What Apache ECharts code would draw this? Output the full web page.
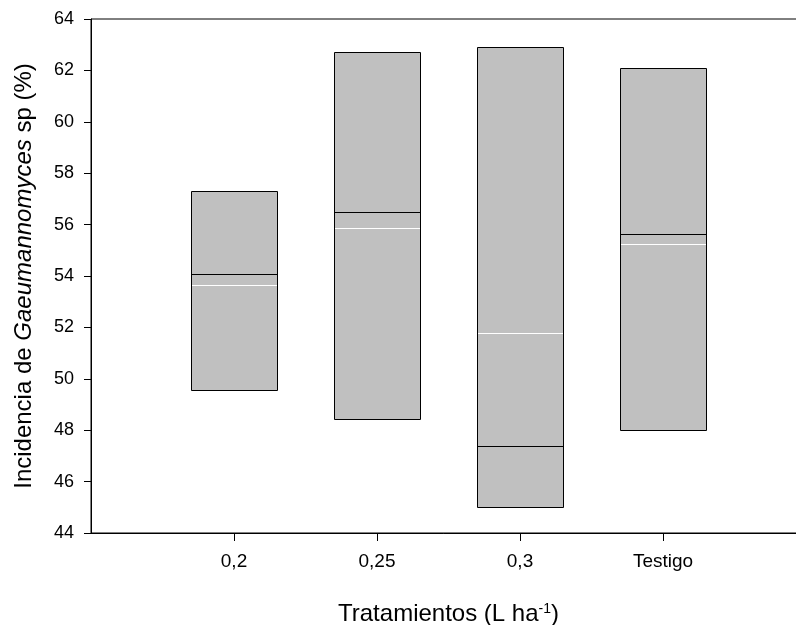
<!DOCTYPE html>
<html>
<head>
<meta charset="utf-8">
<script src="https://cdn.jsdelivr.net/npm/echarts@6/dist/echarts.min.js"></script>
<style>
  html, body { margin: 0; padding: 0; background: #fff; }
  #chart { width: 796px; height: 625px; }
</style>
</head>
<body>
<div id="chart"></div>
<script>
// Treatments and their box statistics (incidence, %)
const categories = ['0,2', '0,25', '0,3', 'Testigo'];
const lowValues = [49.58, 48.45, 45.01, 48.01];
const highValues = [57.29, 62.71, 62.91, 62.09];
const medianValues = [54.08, 56.49, 47.39, 55.63];
const meanValues = [53.65, 55.87, 51.78, 55.25];
const yTicks = [44, 46, 48, 50, 52, 54, 56, 58, 60, 62, 64];

const FONT = '"Liberation Sans", Arial, sans-serif';
const BOX_HALF = 0.3;

const boxData = categories.map((c, i) => [i + 1, lowValues[i], highValues[i], medianValues[i], meanValues[i]]);

function renderBox(params, api) {
  const x = api.value(0);
  const pLow = api.coord([x - BOX_HALF, api.value(1)]);
  const pHigh = api.coord([x + BOX_HALF, api.value(2)]);
  const yMed = api.coord([x, api.value(3)])[1];
  const yMean = api.coord([x, api.value(4)])[1];
  const x0 = Math.round(pLow[0]) + 0.5;
  const x1 = Math.round(pHigh[0]) + 0.5;
  const yTop = Math.round(pHigh[1]) + 0.5;
  const yBot = Math.round(pLow[1]) + 0.5;
  const ym = Math.round(yMed) + 0.5;
  const ya = Math.round(yMean) + 0.5;
  return {
    type: 'group',
    children: [
      { type: 'rect', shape: { x: x0, y: yTop, width: x1 - x0, height: yBot - yTop },
        style: { fill: '#c0c0c0', stroke: null } },
      { type: 'line', shape: { x1: x0, y1: ya, x2: x1, y2: ya },
        style: { stroke: '#ffffff', lineWidth: 1 } },
      { type: 'line', shape: { x1: x0, y1: ym, x2: x1, y2: ym },
        style: { stroke: '#000000', lineWidth: 1 } },
      { type: 'rect', shape: { x: x0, y: yTop, width: x1 - x0, height: yBot - yTop },
        style: { fill: null, stroke: '#000000', lineWidth: 1 } }
    ]
  };
}

const chart = echarts.init(document.getElementById('chart'), null, { renderer: 'canvas' });
chart.setOption({
  animation: false,
  backgroundColor: '#ffffff',
  grid: {
    left: 91, top: 19, width: 715, height: 514,
    outerBoundsMode: 'none',
    containLabel: false,
    show: true, borderColor: '#000', borderWidth: 1, backgroundColor: 'transparent'
  },
  xAxis: {
    type: 'value',
    min: 0, max: 5, interval: 1,
    splitLine: { show: false },
    axisLine: { show: true, lineStyle: { color: '#000', width: 1 } },
    axisTick: { show: true, customValues: [1, 2, 3, 4], length: 8, lineStyle: { color: '#000' } },
    axisLabel: {
      customValues: [1, 2, 3, 4],
      formatter: v => categories[Math.round(v) - 1] || '',
      margin: 19, color: '#000', fontSize: 19, fontFamily: FONT
    },
    name: 'Tratamientos (L ha{sup|-1})',
    nameLocation: 'middle',
    nameGap: 69,
    nameTextStyle: {
      color: '#000', fontSize: 24, fontFamily: FONT,
      rich: { sup: { fontSize: 14, verticalAlign: 'top', color: '#000', fontFamily: FONT } }
    }
  },
  yAxis: {
    type: 'value',
    min: 44, max: 64, interval: 2,
    splitLine: { show: false },
    axisLine: { show: true, lineStyle: { color: '#000', width: 1 } },
    axisTick: { show: true, customValues: yTicks, length: 7, lineStyle: { color: '#000' } },
    axisLabel: { customValues: yTicks, margin: 17, color: '#000', fontSize: 18, fontFamily: FONT },
    name: 'Incidencia de {it|Gaeumannomyces} sp (%)',
    nameLocation: 'middle',
    nameGap: 55,
    nameRotate: 90,
    nameTextStyle: {
      color: '#000', fontSize: 24, fontFamily: FONT,
      rich: { it: { fontStyle: 'italic', fontSize: 24, color: '#000', fontFamily: FONT } }
    }
  },
  series: [{
    type: 'custom',
    renderItem: renderBox,
    encode: { x: 0, y: [1, 2, 3, 4] },
    data: boxData,
    clip: false
  }]
});
</script>
</body>
</html>
